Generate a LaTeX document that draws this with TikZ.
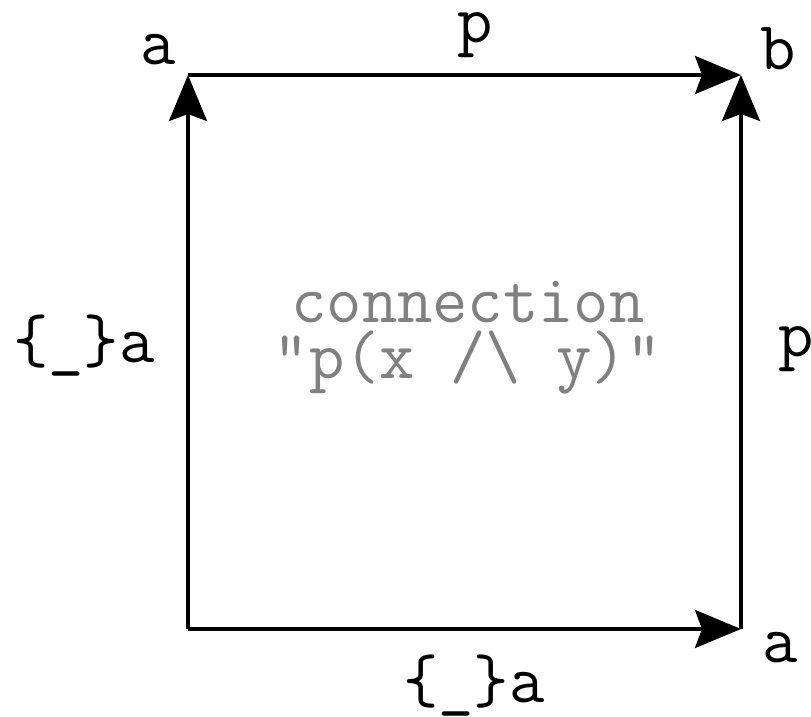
\documentclass[tikz,border=0pt]{standalone}
\usepackage{fontspec}
\usetikzlibrary{arrows.meta}
\begin{document}
\begin{tikzpicture}[x=0.5pt,y=-0.5pt,
  edge/.style={line width=1.75pt,-{Stealth[length=23pt,width=19pt,inset=3.5pt]}},
  lbl/.style={font=\ttfamily\fontsize{34.3}{25}\selectfont,inner sep=0pt,anchor=base},
  note/.style={font=\ttfamily\fontsize{34.3}{28}\selectfont,inner sep=0pt,text=gray,align=center}]
\useasboundingbox (0,0) rectangle (811,717);
\coordinate (TL) at (188,75);
\coordinate (TR) at (741,75);
\coordinate (BL) at (188,629);
\coordinate (BR) at (741,629);
\draw[edge] (BL) -- (TL);
\draw[edge] (BL) -- (BR);
\draw[edge] (BR) -- (TR);
\draw[edge] (TL) -- (TR);
\node[lbl] (la) at (158,65) {a};
\node[lbl] (lp) at (475,43) {p};
\node[lbl] (lb) at (778,70) {b};
\node[lbl] (ll) at (84,363) {\{\_\}a};
\node[lbl] (lr) at (796,357) {p};
\node[lbl] (lba) at (780,663) {a};
\node[lbl] (lbb) at (474,703) {\{\_\}a};
\node[note] (conn) at (468,338) {connection\\"p(x /\textbackslash{} y)"};
\end{tikzpicture}
\end{document}
